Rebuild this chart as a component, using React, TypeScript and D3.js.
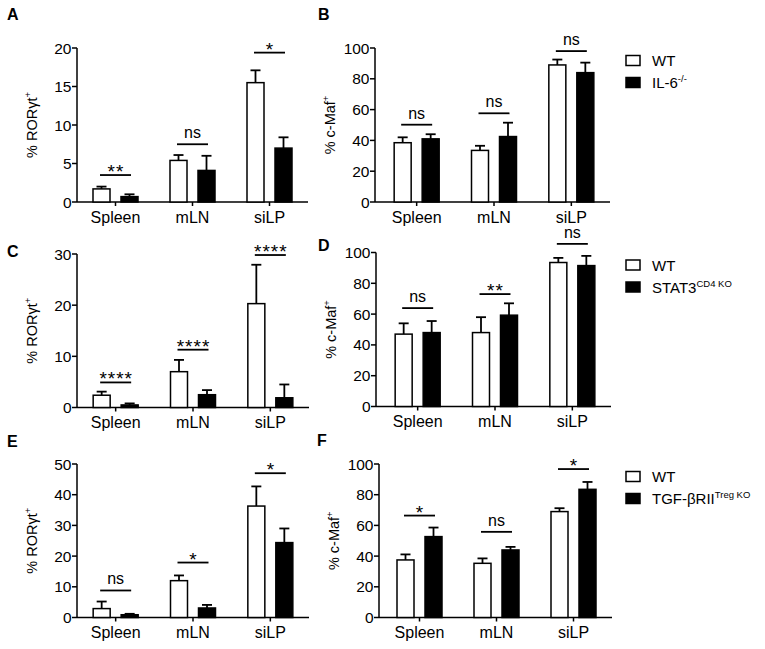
import * as d3 from 'd3'

const categories = ["Spleen", "mLN", "siLP"]

// A: % RORγt+, WT vs IL-6-/-
const aWT = [1.7, 5.4, 15.5]
const aWTSd = [0.3, 0.7, 1.6]
const aKO = [0.7, 4.1, 7.0]
const aKOSd = [0.3, 1.9, 1.4]
const aSig = ["**", "ns", "*"]
const aSigAt = [3.5, 7.5, 19.4]

// B: % c-Maf+, WT vs IL-6-/-
const bWT = [38.5, 33.5, 89]
const bWTSd = [3.5, 3, 3.5]
const bKO = [41, 42.5, 84]
const bKOSd = [3, 9, 6.5]
const bSig = ["ns", "ns", "ns"]
const bSigAt = [50.2, 57.6, 98]

// C: % RORγt+, WT vs STAT3 CD4 KO
const cWT = [2.4, 7.0, 20.3]
const cWTSd = [0.7, 2.3, 7.6]
const cKO = [0.5, 2.5, 1.9]
const cKOSd = [0.3, 0.9, 2.6]
const cSig = ["****", "****", "****"]
const cSigAt = [4.9, 11.3, 29.8]

// D: % c-Maf+, WT vs STAT3 CD4 KO
const dWT = [47, 48, 93.5]
const dWTSd = [7, 10, 3]
const dKO = [48, 59.3, 91.5]
const dKOSd = [7.5, 7.7, 6.3]
const dSig = ["ns", "**", "ns"]
const dSigAt = [63.9, 73, 105.6]

// E: % RORγt+, WT vs TGF-βRII Treg KO
const eWT = [2.9, 12.0, 36.3]
const eWTSd = [2.3, 1.7, 6.4]
const eKO = [0.9, 3.1, 24.4]
const eKOSd = [0.3, 1.0, 4.6]
const eSig = ["ns", "*", "*"]
const eSigAt = [8.8, 17.9, 47]

// F: % c-Maf+, WT vs TGF-βRII Treg KO
const fWT = [37.5, 35.3, 69]
const fWTSd = [3.6, 3.2, 2.2]
const fKO = [52.7, 44, 83.5]
const fKOSd = [5.9, 2, 4.8]
const fSig = ["*", "ns", "*"]
const fSigAt = [66.4, 55.8, 96.7]

const FONT = '"Liberation Sans", Arial, Helvetica, sans-serif'

type Legend = { main: string; sup: string }

interface PanelCfg {
  letter: string
  lx: number
  ly: number
  x0: number
  x1: number
  pad: number
  y0: number
  yTop: number
  max: number
  step: number
  label: 'ror' | 'maf'
  wt: number[]
  wtSd: number[]
  ko: number[]
  koSd: number[]
  sig: string[]
  sigAt: number[]
  legend?: Legend
}

const panels: PanelCfg[] = [
  { letter: 'A', lx: 7, ly: 20, x0: 77, x1: 308, pad: 0, y0: 202, yTop: 48, max: 20, step: 5, label: 'ror',
    wt: aWT, wtSd: aWTSd, ko: aKO, koSd: aKOSd, sig: aSig, sigAt: aSigAt },
  { letter: 'B', lx: 318, ly: 20, x0: 375, x1: 610, pad: 3, y0: 202, yTop: 48, max: 100, step: 20, label: 'maf',
    wt: bWT, wtSd: bWTSd, ko: bKO, koSd: bKOSd, sig: bSig, sigAt: bSigAt, legend: { main: 'IL-6', sup: '-/-' } },
  { letter: 'C', lx: 7, ly: 257, x0: 77, x1: 309, pad: 0, y0: 407.5, yTop: 254, max: 30, step: 10, label: 'ror',
    wt: cWT, wtSd: cWTSd, ko: cKO, koSd: cKOSd, sig: cSig, sigAt: cSigAt },
  { letter: 'D', lx: 318, ly: 251, x0: 376, x1: 611, pad: 3, y0: 406.5, yTop: 252.5, max: 100, step: 20, label: 'maf',
    wt: dWT, wtSd: dWTSd, ko: dKO, koSd: dKOSd, sig: dSig, sigAt: dSigAt, legend: { main: 'STAT3', sup: 'CD4 KO' } },
  { letter: 'E', lx: 7, ly: 447, x0: 77, x1: 309, pad: 0, y0: 617.5, yTop: 464, max: 50, step: 10, label: 'ror',
    wt: eWT, wtSd: eWTSd, ko: eKO, koSd: eKOSd, sig: eSig, sigAt: eSigAt },
  { letter: 'F', lx: 317, ly: 446, x0: 379, x1: 612, pad: 2, y0: 617.5, yTop: 464, max: 100, step: 20, label: 'maf',
    wt: fWT, wtSd: fWTSd, ko: fKO, koSd: fKOSd, sig: fSig, sigAt: fSigAt, legend: { main: 'TGF-βRII', sup: 'Treg KO' } },
]

function ErrBar({ x, yBase, yTop }: { x: number; yBase: number; yTop: number }) {
  return (
    <g stroke="#000" strokeWidth={1.8}>
      <line x1={x} x2={x} y1={yBase} y2={yTop} />
      <line x1={x - 5} x2={x + 5} y1={yTop} y2={yTop} />
    </g>
  )
}

function Panel({ p }: { p: PanelCfg }) {
  const y = d3.scaleLinear().domain([0, p.max]).range([p.y0, p.yTop])
  const x = d3.scaleBand<string>().domain(categories).range([p.x0 + p.pad, p.x1])
  const sub = d3.scaleBand<string>().domain(['WT', 'KO']).range([-22.5, 22.5]).paddingInner(11 / 28)
  const ticks = d3.range(0, p.max + p.step / 2, p.step)
  const bw = sub.bandwidth()
  const labelX = p.x0 - 40
  const labelY = (p.y0 + p.yTop) / 2

  return (
    <g>
      <text x={p.lx} y={p.ly} fontFamily={FONT} fontWeight="bold" fontSize={16}>{p.letter}</text>

      {/* y axis */}
      <line x1={p.x0} x2={p.x0} y1={p.y0} y2={p.yTop} stroke="#000" strokeWidth={1.5} />
      {ticks.map(t => (
        <g key={t}>
          <line x1={p.x0 - 5} x2={p.x0} y1={y(t)} y2={y(t)} stroke="#000" strokeWidth={1.5} />
          <text x={p.x0 - 5.5} y={y(t)} dy="0.36em" textAnchor="end" fontFamily={FONT} fontSize={15.5}>{t}</text>
        </g>
      ))}
      <text transform={`translate(${labelX},${labelY}) rotate(-90)`} textAnchor="middle" fontFamily={FONT} fontSize={14.5}>
        {p.label === 'ror' ? '% RORγt' : '% c-Maf'}
        <tspan fontSize={9.5} dy={-6}>+</tspan>
      </text>

      {/* x axis */}
      <line x1={p.x0} x2={p.x1} y1={p.y0} y2={p.y0} stroke="#000" strokeWidth={1.5} />
      {categories.map(c => {
        const cx = x(c)! + x.bandwidth() / 2
        return (
          <g key={c}>
            <line x1={cx} x2={cx} y1={p.y0} y2={p.y0 + 4} stroke="#000" strokeWidth={1.5} />
            <text x={cx} y={p.y0 + 20.5} textAnchor="middle" fontFamily={FONT} fontSize={16}>{c}</text>
          </g>
        )
      })}

      {/* bars */}
      {categories.map((c, i) => {
        const cx = x(c)! + x.bandwidth() / 2
        const wx = cx + sub('WT')!
        const kx = cx + sub('KO')!
        const sy = y(p.sigAt[i])
        const stars = p.sig[i] !== 'ns'
        return (
          <g key={c}>
            <ErrBar x={wx + bw / 2} yBase={y(p.wt[i])} yTop={y(p.wt[i] + p.wtSd[i])} />
            <ErrBar x={kx + bw / 2} yBase={y(p.ko[i])} yTop={y(p.ko[i] + p.koSd[i])} />
            <rect x={wx} y={y(p.wt[i])} width={bw} height={p.y0 - y(p.wt[i])} fill="#fff" stroke="#000" strokeWidth={1.5} />
            <rect x={kx} y={y(p.ko[i])} width={bw} height={p.y0 - y(p.ko[i])} fill="#000" stroke="#000" strokeWidth={1.5} />
            <line x1={cx - 15.5} x2={cx + 15.5} y1={sy} y2={sy} stroke="#000" strokeWidth={1.8} />
            <text x={cx + (stars ? 0.5 : 0)} y={stars ? sy + 3 : sy - 6} textAnchor="middle" fontFamily={FONT}
              fontSize={stars ? 19 : 16} letterSpacing={stars ? 1 : 0}>{p.sig[i]}</text>
          </g>
        )
      })}

      {/* legend */}
      {p.legend && (
        <g fontFamily={FONT} fontSize={15}>
          <rect x={626} y={p.yTop + 7.5} width={14} height={10} fill="#fff" stroke="#000" strokeWidth={1.5} />
          <text x={652} y={p.yTop + 18}>WT</text>
          <rect x={626} y={p.yTop + 29.5} width={14} height={10} fill="#000" stroke="#000" strokeWidth={1.5} />
          <text x={652} y={p.yTop + 40}>
            {p.legend.main}
            <tspan fontSize={9.5} dy={-6}>{p.legend.sup}</tspan>
          </text>
        </g>
      )}
    </g>
  )
}

export default function App() {
  return (
    <svg width={765} height={649} style={{ position: 'absolute', left: 0, top: 0, background: '#fff' }}>
      <rect width={765} height={649} fill="#fff" />
      {panels.map(p => <Panel key={p.letter} p={p} />)}
    </svg>
  )
}
